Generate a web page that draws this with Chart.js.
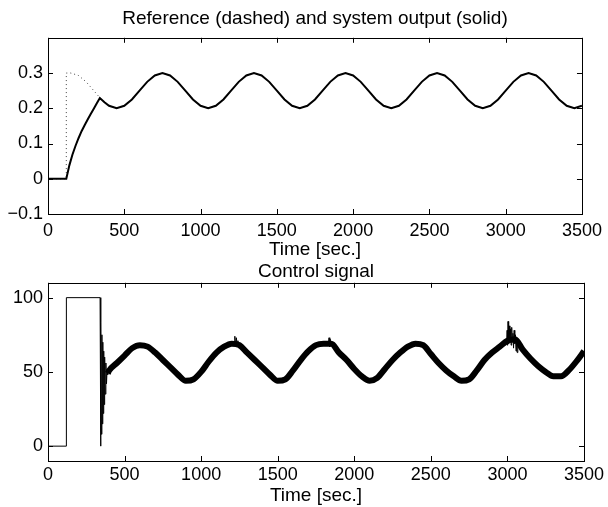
<!DOCTYPE html>
<html>
<head>
<meta charset="utf-8">
<script src="https://cdn.jsdelivr.net/npm/chart.js@4/dist/chart.umd.min.js"></script>
<style>
  body { margin: 0; background: #fff; }
  #wrap { position: relative; width: 608px; height: 507px; }
  canvas { position: absolute; left: 0; }
</style>
</head>
<body>
<div id="wrap">
  <canvas id="top" width="608" height="265" style="top:0"></canvas>
  <canvas id="bottom" width="608" height="257" style="top:250px"></canvas>
</div>
<script>
// top plot: reference (dotted) and system output (solid)
var refT = [0, 120, 120, 150, 200, 250, 300, 350, 400, 450, 500, 550, 600, 650, 700,
  750, 800, 850, 900, 950, 1000, 1050, 1100, 1150, 1200, 1250, 1300,
  1350, 1400, 1450, 1500, 1550, 1600, 1650, 1700, 1750, 1800, 1850, 1900,
  1950, 2000, 2050, 2100, 2150, 2200, 2250, 2300, 2350, 2400, 2450, 2500,
  2550, 2600, 2650, 2700, 2750, 2800, 2850, 2900, 2950, 3000, 3050, 3100,
  3150, 3200, 3250, 3300, 3350, 3400, 3450, 3500];
var refV = [0, 0, 0.3, 0.300, 0.293, 0.275, 0.250, 0.225, 0.207, 0.200, 0.207, 0.225, 0.250, 0.275, 0.293,
  0.300, 0.293, 0.275, 0.250, 0.225, 0.207, 0.200, 0.207, 0.225, 0.250, 0.275, 0.293,
  0.300, 0.293, 0.275, 0.250, 0.225, 0.207, 0.200, 0.207, 0.225, 0.250, 0.275, 0.293,
  0.300, 0.293, 0.275, 0.250, 0.225, 0.207, 0.200, 0.207, 0.225, 0.250, 0.275, 0.293,
  0.300, 0.293, 0.275, 0.250, 0.225, 0.207, 0.200, 0.207, 0.225, 0.250, 0.275, 0.293,
  0.300, 0.293, 0.275, 0.250, 0.225, 0.207, 0.200, 0.207];

var outT = [0, 120, 140, 160, 180, 200, 220, 240, 260, 280, 300, 320, 340, 370, 400,
  450, 500, 550, 600, 650, 700, 750, 800, 850, 900, 950, 1000, 1050, 1100, 1150, 1200,
  1250, 1300, 1350, 1400, 1450, 1500, 1550, 1600, 1650, 1700, 1750, 1800, 1850, 1900,
  1950, 2000, 2050, 2100, 2150, 2200, 2250, 2300, 2350, 2400, 2450, 2500, 2550, 2600,
  2650, 2700, 2750, 2800, 2850, 2900, 2950, 3000, 3050, 3100, 3150, 3200, 3250, 3300,
  3350, 3400, 3450, 3500];
var outV = [0, 0, 0.038, 0.068, 0.093, 0.115, 0.135, 0.152, 0.168, 0.184, 0.199, 0.214, 0.229, 0.217, 0.207,
  0.200, 0.207, 0.225, 0.250, 0.275, 0.293, 0.300, 0.293, 0.275, 0.250, 0.225, 0.207, 0.200, 0.207, 0.225, 0.250,
  0.275, 0.293, 0.300, 0.293, 0.275, 0.250, 0.225, 0.207, 0.200, 0.207, 0.225, 0.250, 0.275, 0.293,
  0.300, 0.293, 0.275, 0.250, 0.225, 0.207, 0.200, 0.207, 0.225, 0.250, 0.275, 0.293, 0.300, 0.293,
  0.275, 0.250, 0.225, 0.207, 0.200, 0.207, 0.225, 0.250, 0.275, 0.293, 0.300, 0.293, 0.275, 0.250,
  0.225, 0.207, 0.200, 0.207];

// bottom plot: control signal
var stepT = [0, 120, 120, 340, 343, 346, 349, 352, 355, 358, 361, 364, 367, 370, 374, 378, 382, 386, 390];
var stepV = [0, 0, 100, 100, 0, 83, 8, 75, 15, 70, 22, 64, 28, 60, 35, 56, 42, 52, 48];

var ctlT = [390, 400, 450, 500, 550, 600, 650, 700, 750, 800, 850, 900, 950, 1000,
  1050, 1100, 1150, 1200, 1250, 1300, 1350, 1400, 1450, 1500, 1550, 1600, 1650, 1700,
  1750, 1800, 1850, 1900, 1950, 2000, 2050, 2100, 2150, 2200, 2250, 2300, 2350, 2400,
  2450, 2500, 2550, 2600, 2650, 2700, 2750, 2800, 2850, 2900, 2950, 3000, 3050, 3100,
  3150, 3200, 3250, 3300, 3350, 3400, 3450, 3500];
var ctlV = [49, 51, 56, 61, 66, 68, 67, 63, 58, 53, 48, 44, 45, 50,
  57, 63, 67, 69, 68, 63, 58, 53, 48, 44, 45, 51, 58, 64,
  68, 69, 69, 63, 58, 52, 47, 44, 46, 52, 58, 63, 67, 69,
  68, 62, 56, 51, 47, 44, 45, 51, 58, 63, 67, 71, 72, 65,
  59, 54, 50, 47, 47, 51, 57, 64];

// noise spikes (null = gap)
var spkT = [1215, 1220, 1225, 1230, 1235, 1240, 1245, 1250, 1830, 1835, 1840, 1845, 1850,
  2995, 2998, 3001, 3004, 3008, 3012, 3016, 3020, 3024, 3028, 3032, 3036, 3040, 3044, 3048, 3052, 3056, 3060, 3064, 3068, 3072];
var spkV = [69, 74, 67, 73, 68, 71, 66, null, 68, 73, 67, 72, null,
  70, 78, 68, 84, 69, 81, 70, 79, 68, 80, 70, 76, 66, 78, 69, 75, 64, 73, 63, 70, 66];

var xTicks = [0, 500, 1000, 1500, 2000, 2500, 3000, 3500];
var yTopTicks = [-0.1, 0, 0.1, 0.2, 0.3];
var yTopLabels = ['\u22120.1', '0', '0.1', '0.2', '0.3'];
var yBotTicks = [0, 50, 100];
var yBotLabels = ['0', '50', '100'];

var FONT = '"Liberation Sans", Arial, Helvetica, sans-serif';

function pts(t, v) {
  return t.map(function (x, i) { return { x: x, y: v[i] }; });
}

// box around the plot with inward ticks on all four sides
var boxTicks = {
  id: 'boxTicks',
  afterDraw: function (chart) {
    var ctx = chart.ctx, a = chart.chartArea, x = chart.scales.x, y = chart.scales.y;
    ctx.save();
    ctx.strokeStyle = '#000';
    ctx.lineWidth = 1;
    ctx.beginPath();
    x.ticks.forEach(function (t) {
      var px = Math.round(x.getPixelForValue(t.value)) + 0.5;
      ctx.moveTo(px, a.bottom); ctx.lineTo(px, a.bottom - 5);
      ctx.moveTo(px, a.top); ctx.lineTo(px, a.top + 5);
    });
    y.ticks.forEach(function (t) {
      var py = Math.round(y.getPixelForValue(t.value)) + 0.5;
      ctx.moveTo(a.left, py); ctx.lineTo(a.left + 5, py);
      ctx.moveTo(a.right, py); ctx.lineTo(a.right - 5, py);
    });
    ctx.stroke();
    ctx.strokeRect(Math.round(a.left) + 0.5, Math.round(a.top) + 0.5,
      Math.round(a.right - a.left), Math.round(a.bottom - a.top));
    ctx.restore();
  }
};

function makeChart(id, datasets, o) {
  return new Chart(document.getElementById(id), {
    type: 'line',
    data: { datasets: datasets },
    plugins: [boxTicks],
    options: {
      responsive: false,
      animation: false,
      devicePixelRatio: 1,
      layout: { padding: { left: 0, right: 24, top: 0, bottom: 0 } },
      elements: { point: { radius: 0 }, line: { tension: 0 } },
      plugins: {
        legend: { display: false },
        tooltip: { enabled: false },
        title: {
          display: true, text: o.title, color: '#000', fullSize: false,
          font: { family: FONT, size: 19, weight: 'normal' },
          padding: o.titlePad
        }
      },
      scales: {
        x: {
          type: 'linear', min: 0, max: 3500,
          afterBuildTicks: function (s) { s.ticks = xTicks.map(function (v) { return { value: v }; }); },
          afterFit: function (s) { s.height = o.xHeight; },
          grid: { display: false, drawTicks: false },
          border: { display: false },
          ticks: { color: '#000', padding: o.xTickPad, maxRotation: 0, autoSkip: false,
            font: { family: FONT, size: 18 },
            callback: function (v) { return String(v); } },
          title: { display: true, text: 'Time [sec.]', color: '#000',
            font: { family: FONT, size: 19 }, padding: o.xTitlePad }
        },
        y: {
          type: 'linear', min: o.yMin, max: o.yMax,
          afterBuildTicks: function (s) { s.ticks = o.yTicks.map(function (v) { return { value: v }; }); },
          afterFit: function (s) { s.width = 48; },
          grid: { display: false, drawTicks: false },
          border: { display: false },
          ticks: { color: '#000', padding: 5, autoSkip: false,
            font: { family: FONT, size: 18 },
            callback: function (v, i) { return o.yLabels[i]; } }
        }
      }
    }
  });
}

makeChart('top', [
  { data: pts(outT, outV), borderColor: '#000', borderWidth: 2, order: 0 },
  { data: pts(refT, refV), borderColor: '#444', borderWidth: 1, borderDash: [1, 3], order: 1 }
], {
  title: 'Reference (dashed) and system output (solid)',
  titlePad: { top: 7, bottom: 8 },
  xHeight: 51, xTickPad: 6, xTitlePad: { top: 0, bottom: 4 },
  yMin: -0.1, yMax: 0.4, yTicks: yTopTicks, yLabels: yTopLabels
});

makeChart('bottom', [
  { data: pts(stepT, stepV), borderColor: '#000', borderWidth: 1 },
  { data: pts(ctlT, ctlV), borderColor: '#000', borderWidth: 6, borderJoinStyle: 'round',
    cubicInterpolationMode: 'monotone' },
  { data: pts(spkT, spkV), borderColor: '#000', borderWidth: 1, spanGaps: false }
], {
  title: 'Control signal',
  titlePad: { top: 10, bottom: 0 },
  xHeight: 46, xTickPad: 3, xTitlePad: { top: 0, bottom: 0 },
  yMin: -10, yMax: 110, yTicks: yBotTicks, yLabels: yBotLabels
});
</script>
</body>
</html>
